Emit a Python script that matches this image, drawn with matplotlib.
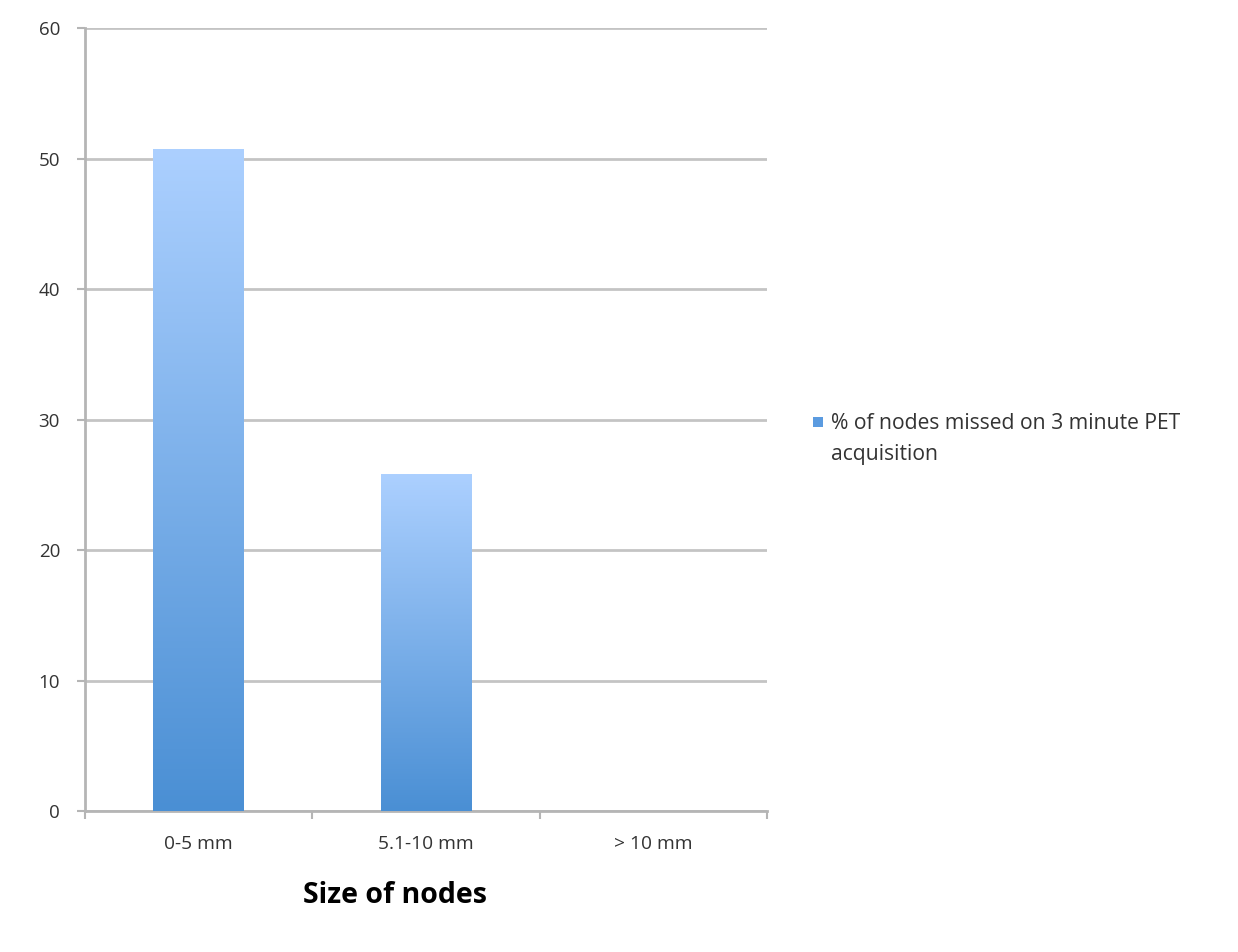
import numpy as np
import matplotlib.pyplot as plt
from matplotlib.colors import LinearSegmentedColormap
from matplotlib.patches import Rectangle

categories = ['0-5 mm', '5.1-10 mm', '> 10 mm']
missed = [50.7, 25.8, 0]
series_name = '% of nodes missed on 3 minute PET\nacquisition'

plt.rcParams['font.family'] = ['Open Sans', 'DejaVu Sans']

fig = plt.figure(figsize=(12.38, 9.52), dpi=100)
ax = fig.add_axes([0.0687, 0.148, 0.5508, 0.8226])

grad = LinearSegmentedColormap.from_list('bargrad', ['#4a8fd4', '#acd0ff'])
x = np.arange(len(categories))
bars = ax.bar(x, missed, width=0.4, color='none', edgecolor='none', zorder=3)
for b in bars:
    h = b.get_height()
    if h <= 0:
        continue
    x0 = b.get_x()
    img = np.linspace(0, 1, 256).reshape(-1, 1)
    im = ax.imshow(img, cmap=grad, origin='lower', aspect='auto',
                   extent=[x0, x0 + b.get_width(), 0, h], zorder=3)
    im.set_clip_path(b)

ax.set_xlim(-0.5, 2.5)
ax.set_ylim(0, 60)
ax.set_yticks(range(0, 61, 10))
ax.yaxis.grid(True, color='#c4c4c4', linewidth=2)
ax.set_axisbelow(True)

ax.set_xticks([-0.5, 0.5, 1.5, 2.5])
ax.set_xticklabels([])
ax.set_xticks(x, minor=True)
ax.set_xticklabels(categories, minor=True)
ax.tick_params(axis='x', which='minor', length=0, pad=17, labelsize=13.8, labelcolor='#333333')
ax.tick_params(axis='x', which='major', length=6, width=1.5, color='#b5b5b5')
ax.tick_params(axis='y', length=6, width=1.5, color='#b5b5b5', labelsize=13.5,
               labelcolor='#333333', pad=12)

for s in ['top', 'right']:
    ax.spines[s].set_visible(False)
for s in ['left', 'bottom']:
    ax.spines[s].set_color('#b5b5b5')
    ax.spines[s].set_linewidth(2)

fig.text(0.319, 0.059, 'Size of nodes', ha='center', va='center',
         fontsize=20.5, fontweight='bold', color='black')

# legend drawn by hand so the swatch sits on the first text line
fig.patches.append(Rectangle((813 / 1238, 1 - 427 / 952), 10 / 1238, 10 / 952,
                             transform=fig.transFigure, facecolor='#5b9be0',
                             edgecolor='none'))
fig.text(831 / 1238, 1 - 413 / 952, series_name, ha='left', va='top',
         fontsize=15.2, color='#333333', linespacing=1.6)

fig.savefig('out.png', dpi=100)
